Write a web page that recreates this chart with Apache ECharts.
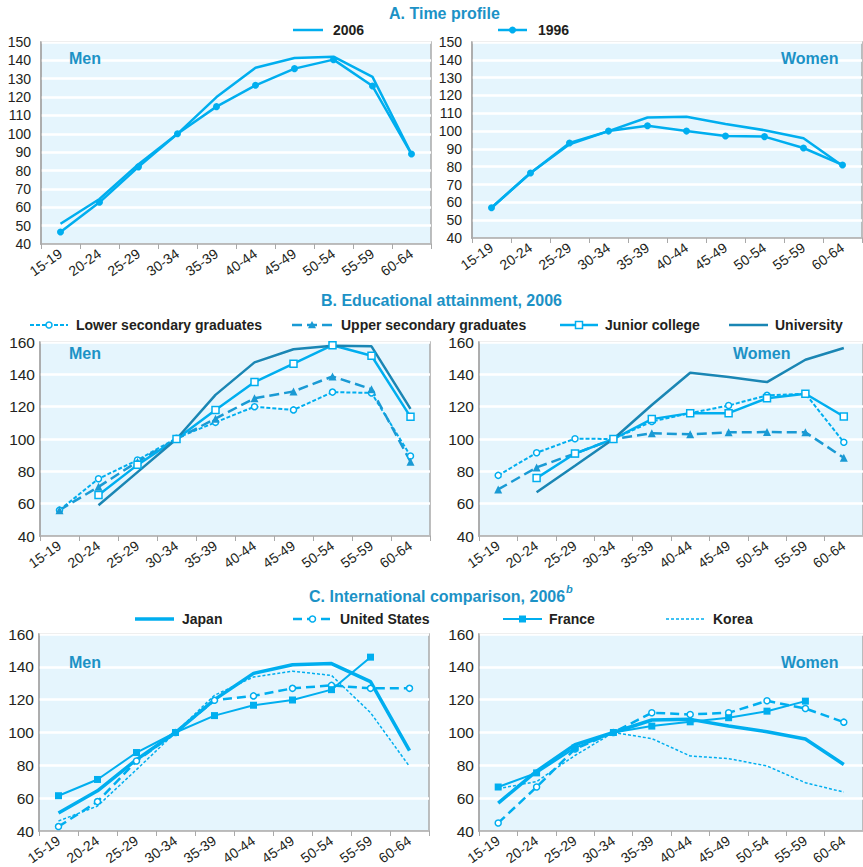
<!DOCTYPE html>
<html>
<head>
<meta charset="utf-8">
<script src="https://cdn.jsdelivr.net/npm/echarts@6/dist/echarts.min.js"></script>
<style>
  html, body { margin: 0; padding: 0; background: #fff; }
  #chart { width: 863px; height: 867px; }
</style>
</head>
<body>
<div id="chart"></div>
<script>
// Age groups shared by every panel
const categories = ['15-19','20-24','25-29','30-34','35-39','40-44','45-49','50-54','55-59','60-64'];

// A. Time profile (wage index, 30-34 = 100)
const menA2006   = [51, 64.5, 83.5, 100, 120, 136, 141.3, 142, 131, 89];
const menA1996   = [46.5, 62.7, 82, 100, 114.8, 126.4, 135.5, 140.4, 126, 89];
const womenA2006 = [57, 76.5, 92.6, 100, 107.6, 108, 104, 100.5, 96, 80.5];
const womenA1996 = [57, 76.5, 93.3, 100, 103, 100, 97.2, 96.9, 90.5, 81];

// B. Educational attainment, 2006
const menLowerSec   = [56, 75.4, 87, 100.5, 110.3, 120, 118, 129, 128.5, 89.5];
const menUpperSec   = [56, 70.4, 86, 100, 112.6, 125.2, 129.4, 138.7, 130.8, 86];
const menJunior     = ['-', 65.4, 84, 100, 118, 135.2, 146.6, 158, 151.5, 113.7];
const menUniv       = ['-', 59, 79.5, 100, 127.3, 147.4, 155.5, 157.7, 157.3, 118.6];
const womenLowerSec = [77.5, 91.5, 100.2, 100, 110.8, 116, 120.7, 127, 128, 98];
const womenUpperSec = [68.8, 82.4, 91, 100, 103.5, 102.9, 104.1, 104.3, 104.1, 88.4];
const womenJunior   = ['-', 75.8, 91, 100, 112.3, 116, 116, 125.2, 128, 113.9];
const womenUniv     = ['-', 67.1, 83.5, 100, 121, 141, 138.3, 135.2, 149, 156.3];

// C. International comparison, 2006 (Japan = 2006 profile above)
const menJapan     = menA2006;
const menUS        = [42.7, 57.9, 82.6, 100, 119.6, 122.3, 126.9, 128.7, 126.9, 126.9];
const menFrance    = [61.5, 71.4, 87.8, 100, 110.3, 116.6, 119.8, 126.1, 145.9, '-'];
const menKorea     = [46.1, 55.2, 77.4, 100, 122.7, 133.8, 137.3, 134.8, 112.1, 79.3];
const womenJapan   = womenA2006;
const womenUS      = [44.9, 66.8, 90, 100, 112, 111, 112, 119.3, 114.6, 106.3];
const womenFrance  = [66.8, 75.4, 90.6, 100, 103.9, 106.5, 109, 113, 119.1, '-'];
const womenKorea   = [65.8, 70.1, 86, 100, 96.3, 85.7, 84.1, 79.6, 69.4, 63.7];

const FONT = "'Liberation Sans', Arial, Helvetica, sans-serif";
const CYAN = '#00aeef';
const MID = '#1a9ad4';
const DARK = '#1a86b4';
const TITLE = '#1c92c6';
const INK = '#231f20';
const FRAME = '#a9a9a9';

// Plot areas: [left, top, width, height]
const grids = [
  [41, 42, 390, 202],
  [472, 42, 390, 196],
  [40, 342, 390, 194],
  [479, 342, 389, 194],
  [39, 634, 390, 198],
  [479, 634, 389, 197]
];
const yRanges = [[40,150,10],[40,150,10],[40,160,20],[40,160,20],[40,160,20],[40,160,20]];
const yFont = [14, 14, 15.5, 15.5, 15.5, 15.5];
const yMargin = [10, 10, 5, 5, 5, 5];

const gridOpts = grids.map(g => ({
  left: g[0], top: g[1], width: g[2], height: g[3],
  show: true, backgroundColor: '#e5f5fd', borderColor: FRAME, borderWidth: 1.5,
  containLabel: false
}));

const xAxes = grids.map((g, i) => ({
  type: 'category', gridIndex: i, data: categories, boundaryGap: true,
  axisLine: { show: true, lineStyle: { color: FRAME, width: 1.5 } },
  axisTick: { show: true, length: 5, lineStyle: { color: FRAME, width: 1 } },
  axisLabel: { rotate: 35, fontSize: 14, color: INK, fontFamily: FONT, margin: 8, interval: 0 },
  splitLine: { show: false }
}));

const yAxes = grids.map((g, i) => ({
  type: 'value', gridIndex: i, min: yRanges[i][0], max: yRanges[i][1], interval: yRanges[i][2],
  axisLine: { show: true, lineStyle: { color: FRAME, width: 1.5 } },
  axisTick: { show: false },
  axisLabel: { fontSize: yFont[i], color: INK, fontFamily: FONT, margin: yMargin[i] },
  splitLine: { show: true, lineStyle: { color: '#ffffff', width: 2.5 } }
}));

// Line + marker styles per series kind
const styles = {
  y2006:  { color: CYAN, width: 2.5, dash: 'solid', symbol: 'none' },
  y1996:  { color: CYAN, width: 2.5, dash: 'solid', symbol: 'circle', size: 7, fill: CYAN },
  lower:  { color: CYAN, width: 2, dash: [4, 2], symbol: 'circle', size: 6, fill: '#fff' },
  upper:  { color: MID, width: 2.5, dash: [10, 5], symbol: 'triangle', size: 8, fill: MID },
  junior: { color: CYAN, width: 2.5, dash: 'solid', symbol: 'rect', size: 7, fill: '#fff' },
  univ:   { color: DARK, width: 2.5, dash: 'solid', symbol: 'none' },
  japan:  { color: CYAN, width: 3.5, dash: 'solid', symbol: 'none' },
  us:     { color: CYAN, width: 2.5, dash: [9, 5], symbol: 'circle', size: 6, fill: '#fff' },
  france: { color: CYAN, width: 2, dash: 'solid', symbol: 'rect', size: 7, fill: CYAN },
  korea:  { color: CYAN, width: 1.5, dash: [3, 2], symbol: 'none' }
};

function line(name, idx, data, s) {
  return {
    type: 'line', name: name, xAxisIndex: idx, yAxisIndex: idx, data: data,
    symbol: s.symbol, symbolSize: s.size || 0, showSymbol: s.symbol !== 'none',
    connectNulls: false, color: s.color,
    lineStyle: { color: s.color, width: s.width, type: s.dash },
    itemStyle: { color: s.fill || s.color, borderColor: s.color, borderWidth: s.fill === '#fff' ? 1.5 : 0 },
    animation: false, silent: true
  };
}

const series = [
  line('2006', 0, menA2006, styles.y2006),
  line('1996', 0, menA1996, styles.y1996),
  line('2006', 1, womenA2006, styles.y2006),
  line('1996', 1, womenA1996, styles.y1996),

  line('Lower secondary graduates', 2, menLowerSec, styles.lower),
  line('Upper secondary graduates', 2, menUpperSec, styles.upper),
  line('Junior college', 2, menJunior, styles.junior),
  line('University', 2, menUniv, styles.univ),
  line('Lower secondary graduates', 3, womenLowerSec, styles.lower),
  line('Upper secondary graduates', 3, womenUpperSec, styles.upper),
  line('Junior college', 3, womenJunior, styles.junior),
  line('University', 3, womenUniv, styles.univ),

  line('Japan', 4, menJapan, styles.japan),
  line('United States', 4, menUS, styles.us),
  line('France', 4, menFrance, styles.france),
  line('Korea', 4, menKorea, styles.korea),
  line('Japan', 5, womenJapan, styles.japan),
  line('United States', 5, womenUS, styles.us),
  line('France', 5, womenFrance, styles.france),
  line('Korea', 5, womenKorea, styles.korea)
];

function txt(x, y, s, size, color, extra) {
  return {
    type: 'text', x: x, y: y, silent: true, z: 100,
    style: Object.assign({
      text: s, fontSize: size, fontWeight: 'bold', fontFamily: FONT,
      fill: color, textAlign: 'left', textVerticalAlign: 'middle'
    }, extra || {})
  };
}

// Legend key: a short stroke with the series marker, then its label
function key(x1, x2, y, tx, label, s) {
  const parts = [{
    type: 'line', silent: true, z: 100,
    shape: { x1: x1, y1: y, x2: x2, y2: y },
    style: { stroke: s.color, lineWidth: s.width, lineDash: Array.isArray(s.dash) ? s.dash : null }
  }];
  const cx = (x1 + x2) / 2, r = (s.size || 0) / 2;
  const mstyle = { fill: s.fill, stroke: s.color, lineWidth: s.fill === '#fff' ? 1.5 : 0 };
  if (s.symbol === 'circle') {
    parts.push({ type: 'circle', silent: true, z: 101, shape: { cx: cx, cy: y, r: r }, style: mstyle });
  } else if (s.symbol === 'rect') {
    parts.push({ type: 'rect', silent: true, z: 101, shape: { x: cx - r, y: y - r, width: 2 * r, height: 2 * r }, style: mstyle });
  } else if (s.symbol === 'triangle') {
    parts.push({ type: 'polygon', silent: true, z: 101,
      shape: { points: [[cx, y - r], [cx + r, y + r * 0.8], [cx - r, y + r * 0.8]] }, style: mstyle });
  }
  parts.push(txt(tx, y, label, 14, INK));
  return parts;
}

const graphics = [].concat(
  txt(389, 13, 'A. Time profile', 16, TITLE),
  txt(321, 300, 'B. Educational attainment, 2006', 16, TITLE),
  txt(309, 596, 'C. International comparison, 2006', 16, TITLE),
  txt(566, 589, 'b', 11, TITLE, { fontStyle: 'italic' }),
  txt(69, 58, 'Men', 16, TITLE),
  txt(781, 58, 'Women', 16, TITLE),
  txt(69, 353, 'Men', 16, TITLE),
  txt(733, 353, 'Women', 16, TITLE),
  txt(69, 662, 'Men', 16, TITLE),
  txt(781, 662, 'Women', 16, TITLE),

  key(293, 323, 30, 333, '2006', styles.y2006),
  key(498, 527, 30, 538, '1996', styles.y1996),

  key(30, 68, 325, 76, 'Lower secondary graduates', styles.lower),
  key(292, 332, 325, 341, 'Upper secondary graduates', styles.upper),
  key(560, 598, 325, 605, 'Junior college', styles.junior),
  key(729, 768, 325, 775, 'University', styles.univ),

  key(135, 174, 619, 182, 'Japan', styles.japan),
  key(293, 332, 619, 340, 'United States', styles.us),
  key(503, 542, 619, 549, 'France', styles.france),
  key(666, 705, 619, 713, 'Korea', styles.korea)
);

const chart = echarts.init(document.getElementById('chart'), null, { renderer: 'svg' });
chart.setOption({
  animation: false,
  backgroundColor: '#ffffff',
  textStyle: { fontFamily: FONT },
  grid: gridOpts,
  xAxis: xAxes,
  yAxis: yAxes,
  series: series,
  graphic: graphics
});
</script>
</body>
</html>
